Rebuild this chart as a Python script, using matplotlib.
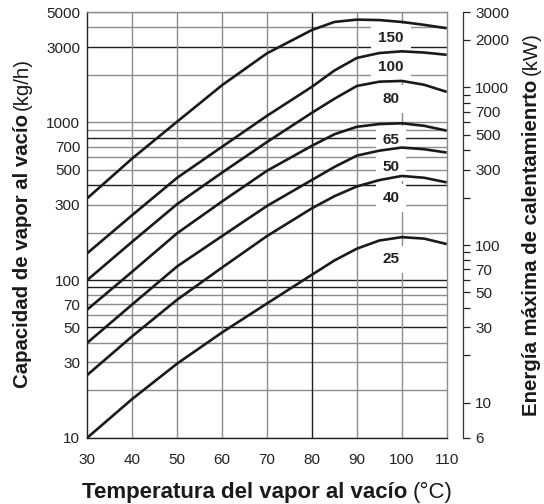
import matplotlib
matplotlib.use("Agg")
import matplotlib.pyplot as plt
from matplotlib.ticker import FixedLocator, FixedFormatter, NullFormatter, NullLocator

plt.rcParams['font.family'] = ['Liberation Sans', 'DejaVu Sans']

# --- data (kg/h vs temperature) ---
temps = [30, 40, 50, 60, 70, 80, 85, 90, 95, 100, 105, 110]
cap_150 = [330, 590, 1010, 1720, 2740, 3850, 4330, 4480, 4450, 4330, 4150, 3950]
cap_100 = [148, 258, 445, 700, 1100, 1680, 2130, 2560, 2750, 2820, 2770, 2680]
cap_80 = [100, 175, 303, 480, 750, 1150, 1410, 1700, 1810, 1830, 1730, 1560]
cap_65 = [65, 113, 198, 315, 493, 710, 840, 937, 975, 986, 950, 885]
cap_50 = [40, 70, 122, 190, 295, 431, 521, 615, 661, 692, 675, 643]
cap_40 = [25, 44, 75, 120, 190, 285, 340, 392, 430, 457, 445, 416]
cap_25 = [10, 17.6, 29.5, 46.5, 71, 108, 133, 158, 178, 187, 183, 169]
curve_names = ["150", "100", "80", "65", "50", "40", "25"]
curves = [cap_150, cap_100, cap_80, cap_65, cap_50, cap_40, cap_25]

# label anchor (temperature, kg/h) for each curve name
label_x = 97.6
label_y = [3410, 2233, 1406, 773, 523, 333, 135]

left_ticks = [10, 30, 50, 70, 100, 300, 500, 700, 1000, 3000, 5000]
right_ticks = [6, 10, 30, 50, 70, 100, 300, 500, 700, 1000, 2000, 3000]
right_minor = [20, 40, 60, 80, 90, 200, 400, 600, 800, 900]
x_ticks = [30, 40, 50, 60, 70, 80, 90, 100, 110]

grid_y = [d * m for d in (10, 100, 1000) for m in range(1, 10)]
grid_y = [v for v in grid_y if v <= 5000]
grid_y_dark = [3000, 800, 400, 100, 90, 50]
grid_x = [40, 50, 60, 70, 80, 90, 100]
grid_x_dark = [80]

W, H = 544, 504
fig = plt.figure(figsize=(W / 100, H / 100), dpi=100)
ax = fig.add_axes([87.3 / W, 1 - 437.7 / H, (446.7 - 87.3) / W, (437.7 - 12.1) / H])
ax.set_yscale('log')
ax.set_xlim(30, 110)
ax.set_ylim(10, 5000)

GRAY = '#8c8c8c'
DARK = '#1e1e1e'
for v in grid_y:
    c = DARK if v in grid_y_dark else GRAY
    ax.axhline(v, color=c, lw=1.0, zorder=1)
for v in grid_x:
    c = DARK if v in grid_x_dark else GRAY
    ax.axvline(v, color=c, lw=1.0, zorder=1)

for vals in curves:
    ax.plot(temps, vals, color='#1a1a1a', lw=1.9, zorder=3,
            solid_capstyle='butt', solid_joinstyle='round')

for name, ly in zip(curve_names, label_y):
    ax.text(label_x, ly, name, ha='center', va='center', fontsize=11, fontweight='bold',
            color='#222222', zorder=2,
            bbox=dict(boxstyle='square,pad=0.45', fc='white', ec='none'))

for s in ('top', 'right'):
    ax.spines[s].set_color(GRAY)
for s in ('left', 'bottom'):
    ax.spines[s].set_color('#222222')
for s in ax.spines.values():
    s.set_linewidth(1.0)
    s.set_zorder(1.5)

ax.yaxis.set_major_locator(FixedLocator(left_ticks))
ax.yaxis.set_major_formatter(FixedFormatter([str(v) for v in left_ticks]))
ax.yaxis.set_minor_locator(NullLocator())
ax.set_xticks(x_ticks)
ax.set_xticklabels([str(v) for v in x_ticks])
ax.tick_params(axis='y', length=0, pad=5, labelsize=11, colors='#222222')
ax.tick_params(axis='x', length=0, pad=11, labelsize=11, colors='#222222')

# right-hand axis in kW
ax2 = ax.twinx()
ax2.set_yscale('log')
ax2.set_ylim(6, 3000)
for s in ('top', 'left', 'bottom'):
    ax2.spines[s].set_visible(False)
ax2.spines['right'].set_position(('outward', 11.5))
ax2.spines['right'].set_color('#333333')
ax2.spines['right'].set_linewidth(0.9)
ax2.yaxis.set_major_locator(FixedLocator(right_ticks))
ax2.yaxis.set_major_formatter(FixedFormatter([str(v) for v in right_ticks]))
ax2.yaxis.set_minor_locator(FixedLocator(right_minor))
ax2.yaxis.set_minor_formatter(NullFormatter())
ax2.tick_params(axis='y', which='both', direction='out', length=5, width=0.9,
                pad=4, labelsize=11, colors='#222222')


def mixed_label(bold, normal, x, y, vertical, size):
    # bold part followed by normal part, centred on (x, y) in pixels; y/x is the baseline
    r = fig.canvas.get_renderer()
    rot = 90 if vertical else 0
    kw = dict(rotation=rot, rotation_mode='anchor', ha='left', va='baseline',
              fontsize=size, color='#1a1a1a')
    t1 = fig.text(0, 0, bold, fontweight='bold', **kw)
    t2 = fig.text(0, 0, normal, **kw)
    e1 = t1.get_window_extent(r)
    e2 = t2.get_window_extent(r)
    gap = size * 0.3
    if vertical:
        total = e1.height + gap + e2.height
        y0 = y - total / 2
        t1.set_position((x / W, y0 / H))
        t2.set_position((x / W, (y0 + e1.height + gap) / H))
    else:
        total = e1.width + gap + e2.width
        x0 = x - total / 2
        t1.set_position((x0 / W, y / H))
        t2.set_position(((x0 + e1.width + gap) / W, y / H))


mixed_label('Temperatura del vapor al vacío', '(°C)', 267, H - 498, False, 16)
mixed_label('Capacidad de vapor al vacío', '(kg/h)', 28, H - 223, True, 14.7)
mixed_label('Energía máxima de calentamienrto', '(kW)', 537, H - 224, True, 14.7)

fig.savefig('out.png', dpi=100)
